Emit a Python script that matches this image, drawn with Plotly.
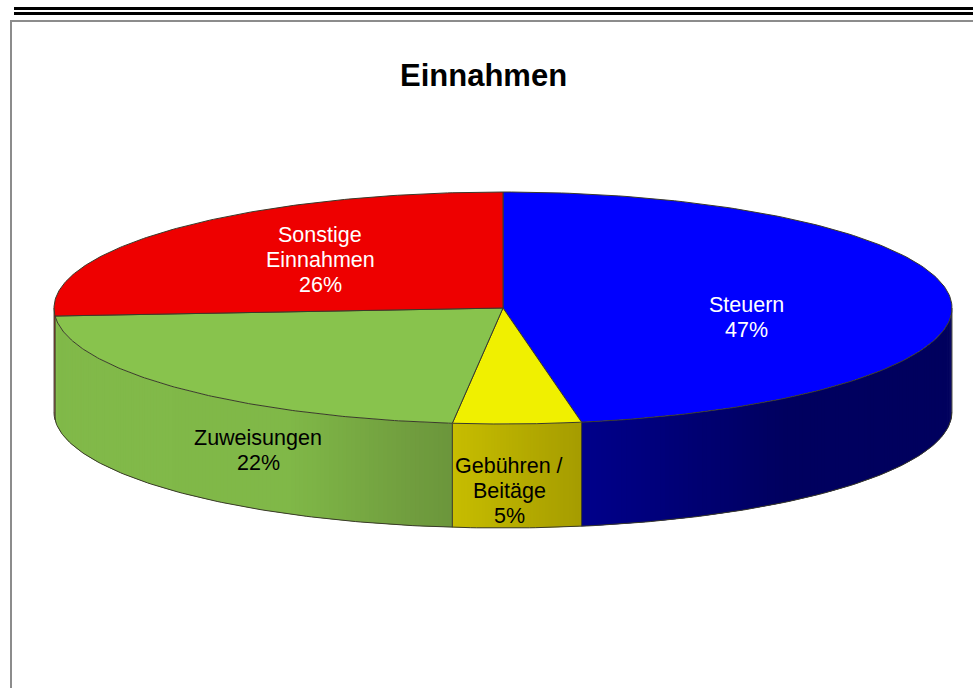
import numpy as np
import plotly.graph_objects as go

# Data
categories = ["Steuern", "Gebühren / Beitäge", "Zuweisungen", "Sonstige Einnahmen"]
values = [47.2, 4.6, 22.1, 26.1]
top_colors = ["#0000FF", "#F0F000", "#88C34D", "#EE0000"]
label_lines = [["Steuern"], ["Gebühren /", "Beitäge"], ["Zuweisungen"], ["Sonstige", "Einnahmen"]]
label_colors = ["white", "black", "black", "white"]
label_pos = [(746, 305), (509, 466), (258, 438), (320, 235)]
# side shading: left-to-right fraction of the slice's visible wall -> colour
side_stops = [
    [(0.0, (0, 0, 140)), (0.55, (0, 0, 96)), (1.0, (0, 0, 94))],
    [(0.0, (200, 190, 0)), (1.0, (166, 157, 0))],
    [(0.0, (130, 186, 74)), (0.6, (128, 184, 72)), (1.0, (108, 150, 60))],
    [(0.0, (190, 0, 0)), (1.0, (190, 0, 0))],
]

CX, CY, RX, RY, DEPTH = 503, 308, 449, 116, 104
OUTLINE = "#3A3A2A"
W, H = 973, 688


def ex(t):
    return CX + RX * np.sin(t)


def ey(t):
    return CY - RY * np.cos(t)


def shade(stops, f):
    fs = [s[0] for s in stops]
    return "rgb(%d,%d,%d)" % tuple(np.interp(f, fs, [s[1][i] for s in stops]) for i in range(3))


fig = go.Figure()
edges = np.radians(np.concatenate([[0], np.cumsum(values) / np.sum(values) * 360]))


def poly(x, y, fill=None, line=None, width=1):
    fig.add_trace(go.Scatter(
        x=x, y=y, mode="lines", hoverinfo="skip", showlegend=False,
        fill="toself" if fill else None, fillcolor=fill,
        line=dict(color=line or "rgba(0,0,0,0)", width=width if line else 0),
    ))


# side wall
walls = []
for i in range(len(values)):
    a = max(edges[i], np.pi / 2)
    b = min(edges[i + 1], 3 * np.pi / 2)
    if b > a:
        walls.append((i, a, b))

for i, a, b in walls:
    n = max(2, int(abs(ex(b) - ex(a)) / 3))
    ts = np.linspace(a, b, n + 1)
    xl, xr = min(ex(a), ex(b)), max(ex(a), ex(b))
    for k in range(n):
        t0 = ts[k]
        t1 = ts[min(k + 2, n)]
        seg = np.linspace(t0, t1, 5)
        f = (ex(ts[k]) - xl) / (xr - xl)
        x = np.concatenate([ex(seg), ex(seg)[::-1]])
        y = np.concatenate([ey(seg), ey(seg)[::-1] + DEPTH])
        poly(list(x) + [x[0]], list(y) + [y[0]], fill=shade(side_stops[i], f))

# wall outline
full = np.linspace(np.pi / 2, 3 * np.pi / 2, 240)
poly(ex(full), ey(full) + DEPTH, line=OUTLINE)
for t in [np.pi / 2, 3 * np.pi / 2]:
    poly([ex(t), ex(t)], [ey(t), ey(t) + DEPTH], line="#55554A")
for e in edges[1:-1]:
    if np.pi / 2 < e < 3 * np.pi / 2:
        poly([ex(e), ex(e)], [ey(e), ey(e) + DEPTH], line=OUTLINE)

# top face
for i in range(len(values)):
    seg = np.linspace(edges[i], edges[i + 1], 160)
    x = np.concatenate([[CX], ex(seg), [CX]])
    y = np.concatenate([[CY], ey(seg), [CY]])
    poly(x, y, fill=top_colors[i], line=OUTLINE)

# labels, one annotation per line
LINE_GAP = 25
annotations = []
for i, lines in enumerate(label_lines):
    lx, ly = label_pos[i]
    rows = lines + ["%d%%" % round(values[i])]
    for j, row in enumerate(rows):
        annotations.append(dict(
            x=lx, y=ly + j * LINE_GAP, xref="x", yref="y", text=row, showarrow=False,
            font=dict(family="Liberation Sans", size=21.5, color=label_colors[i]),
            xanchor="center", yanchor="middle",
        ))
annotations.append(dict(
    x=483, y=75, xref="x", yref="y", text="<b>Einnahmen</b>", showarrow=False,
    font=dict(family="Liberation Sans", size=31, color="black"),
    xanchor="center", yanchor="middle",
))

# page rules and frame
shapes = [
    dict(type="rect", x0=14, x1=W, y0=7, y1=10, fillcolor="black", line_width=0, layer="below"),
    dict(type="rect", x0=14, x1=W, y0=12, y1=15, fillcolor="black", line_width=0, layer="below"),
    dict(type="rect", x0=10, x1=W, y0=20, y1=22, fillcolor="#8C8C8C", line_width=0, layer="below"),
    dict(type="rect", x0=10, x1=12, y0=20, y1=H, fillcolor="#8C8C8C", line_width=0, layer="below"),
]

fig.update_layout(
    width=W, height=H, margin=dict(l=0, r=0, t=0, b=0, pad=0),
    paper_bgcolor="white", plot_bgcolor="white", showlegend=False,
    xaxis=dict(range=[0, W], visible=False, fixedrange=True),
    yaxis=dict(range=[H, 0], visible=False, fixedrange=True),
    annotations=annotations, shapes=shapes,
)
fig.write_html(
    "out.html",
    config={"displayModeBar": False},
    default_width="%dpx" % W,
    default_height="%dpx" % H,
    post_script="document.body.style.margin='0';document.body.style.overflow='hidden';",
)
